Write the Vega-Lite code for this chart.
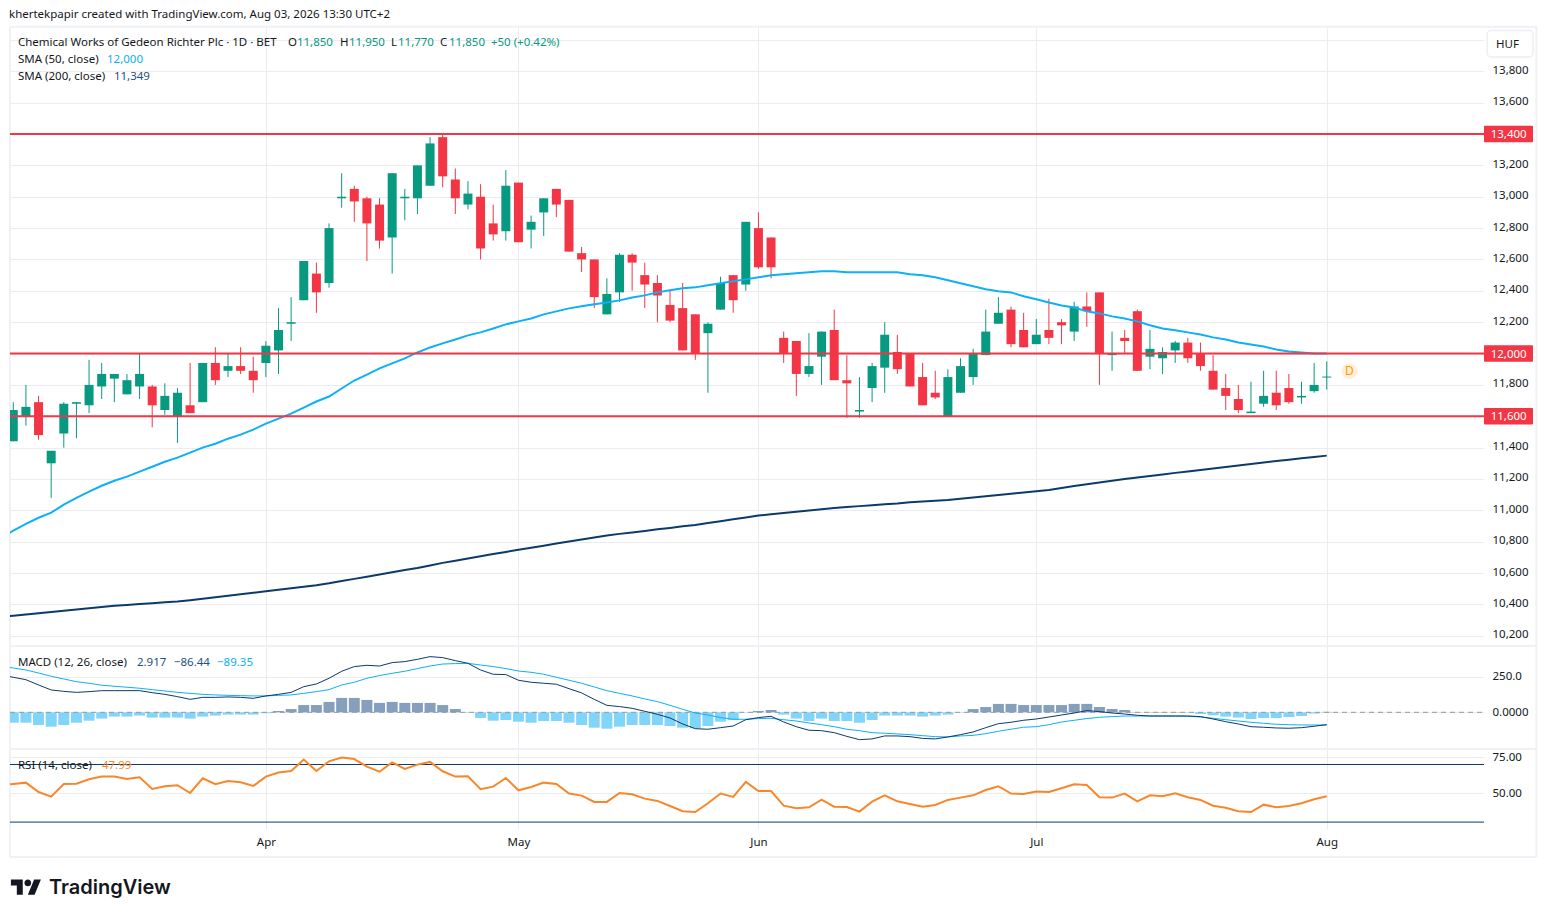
{
  "$schema": "https://vega.github.io/schema/vega-lite/v6.json",
  "description": "Gedeon Richter daily candles with SMA, MACD and RSI",
  "background": "white",
  "autosize": {"type": "pad"},
  "padding": {"left": 8, "top": 9, "right": 0, "bottom": 0},
  "spacing": 0,
  "bounds": "flush",
  "config": {
    "view": {"stroke": null},
    "font": "Noto Sans",
    "axis": {"gridColor": "#ececef", "gridWidth": 1, "labelColor": "#131722", "labelFont": "Noto Sans", "labelFontSize": 11.5, "domain": false, "ticks": false, "tickCount": 40}
  },
  "datasets": {
    "bars": [
      {"n":-1,"sma50":10825,"sma200":10320,"macd":262,"signal":325,"rsi":55.6},
      {"n":0,"open":11440,"high":11690,"low":11440,"close":11640,"dir":"up","sma50":10870,"sma200":10328,"hist":-73,"macd":246,"signal":311,"rsi":56.5},
      {"n":1,"open":11600,"high":11800,"low":11540,"close":11660,"dir":"up","sma50":10914,"sma200":10336,"hist":-73,"macd":229,"signal":297,"rsi":57.4},
      {"n":2,"open":11690,"high":11730,"low":11450,"close":11480,"dir":"down","sma50":10953,"sma200":10344,"hist":-89,"macd":192,"signal":276,"rsi":50.9},
      {"n":3,"open":11300,"high":11380,"low":11080,"close":11380,"dir":"up","sma50":10985,"sma200":10352,"hist":-101,"macd":157,"signal":253,"rsi":47.7},
      {"n":4,"open":11490,"high":11690,"low":11400,"close":11680,"dir":"up","sma50":11036,"sma200":10360,"hist":-89,"macd":147,"signal":234,"rsi":56.5},
      {"n":5,"open":11680,"high":11690,"low":11460,"close":11690,"dir":"up","sma50":11080,"sma200":10368,"hist":-73,"macd":140,"signal":215,"rsi":56.7},
      {"n":6,"open":11670,"high":11960,"low":11620,"close":11800,"dir":"up","sma50":11119,"sma200":10376,"hist":-59,"macd":145,"signal":204,"rsi":59.7},
      {"n":7,"open":11790,"high":11940,"low":11710,"close":11870,"dir":"up","sma50":11157,"sma200":10384,"hist":-44,"macd":152,"signal":190,"rsi":61.6},
      {"n":8,"open":11840,"high":11870,"low":11690,"close":11870,"dir":"up","sma50":11189,"sma200":10392,"hist":-30,"macd":152,"signal":183,"rsi":61.6},
      {"n":9,"open":11740,"high":11870,"low":11740,"close":11830,"dir":"up","sma50":11215,"sma200":10397,"hist":-30,"macd":152,"signal":176,"rsi":60.0},
      {"n":10,"open":11790,"high":12000,"low":11710,"close":11870,"dir":"up","sma50":11247,"sma200":10403,"hist":-23,"macd":152,"signal":169,"rsi":61.1},
      {"n":11,"open":11790,"high":11800,"low":11530,"close":11670,"dir":"down","sma50":11278,"sma200":10408,"hist":-37,"macd":138,"signal":159,"rsi":53.0},
      {"n":12,"open":11640,"high":11810,"low":11610,"close":11730,"dir":"up","sma50":11310,"sma200":10414,"hist":-37,"macd":126,"signal":150,"rsi":54.9},
      {"n":13,"open":11600,"high":11780,"low":11430,"close":11750,"dir":"up","sma50":11336,"sma200":10419,"hist":-37,"macd":110,"signal":140,"rsi":55.6},
      {"n":14,"open":11670,"high":11940,"low":11620,"close":11620,"dir":"down","sma50":11368,"sma200":10427,"hist":-44,"macd":91,"signal":133,"rsi":50.2},
      {"n":15,"open":11690,"high":11940,"low":11690,"close":11940,"dir":"up","sma50":11400,"sma200":10436,"hist":-30,"macd":105,"signal":126,"rsi":60.4},
      {"n":16,"open":11940,"high":12040,"low":11800,"close":11830,"dir":"down","sma50":11425,"sma200":10446,"hist":-23,"macd":105,"signal":122,"rsi":56.3},
      {"n":17,"open":11890,"high":12000,"low":11850,"close":11920,"dir":"up","sma50":11457,"sma200":10455,"hist":-16,"macd":108,"signal":119,"rsi":58.6},
      {"n":18,"open":11920,"high":12040,"low":11870,"close":11890,"dir":"down","sma50":11483,"sma200":10465,"hist":-16,"macd":105,"signal":117,"rsi":57.6},
      {"n":19,"open":11890,"high":11980,"low":11750,"close":11830,"dir":"down","sma50":11515,"sma200":10474,"hist":-16,"macd":98,"signal":115,"rsi":55.1},
      {"n":20,"open":11940,"high":12080,"low":11850,"close":12050,"dir":"up","sma50":11553,"sma200":10484,"hist":-7,"macd":115,"signal":115,"rsi":61.6},
      {"n":21,"open":12020,"high":12290,"low":11870,"close":12150,"dir":"up","sma50":11585,"sma200":10494,"hist":9,"macd":126,"signal":119,"rsi":64.4},
      {"n":22,"open":12190,"high":12360,"low":12080,"close":12200,"dir":"up","sma50":11617,"sma200":10503,"hist":23,"macd":140,"signal":122,"rsi":65.5},
      {"n":23,"open":12340,"high":12590,"low":12340,"close":12590,"dir":"up","sma50":11655,"sma200":10513,"hist":51,"macd":180,"signal":133,"rsi":73.4},
      {"n":24,"open":12510,"high":12580,"low":12260,"close":12390,"dir":"down","sma50":11694,"sma200":10523,"hist":51,"macd":199,"signal":145,"rsi":65.5},
      {"n":25,"open":12450,"high":12830,"low":12420,"close":12800,"dir":"up","sma50":11726,"sma200":10535,"hist":73,"macd":239,"signal":159,"rsi":72.2},
      {"n":26,"open":12990,"high":13150,"low":12930,"close":13000,"dir":"up","sma50":11777,"sma200":10549,"hist":101,"macd":288,"signal":192,"rsi":74.8},
      {"n":27,"open":13050,"high":13070,"low":12840,"close":12970,"dir":"down","sma50":11828,"sma200":10563,"hist":101,"macd":321,"signal":211,"rsi":73.8},
      {"n":28,"open":12990,"high":13000,"low":12590,"close":12830,"dir":"down","sma50":11866,"sma200":10577,"hist":87,"macd":330,"signal":239,"rsi":68.5},
      {"n":29,"open":12950,"high":12990,"low":12670,"close":12720,"dir":"down","sma50":11905,"sma200":10591,"hist":66,"macd":325,"signal":258,"rsi":65.0},
      {"n":30,"open":12740,"high":13150,"low":12510,"close":13150,"dir":"up","sma50":11937,"sma200":10605,"hist":73,"macd":349,"signal":274,"rsi":71.5},
      {"n":31,"open":12990,"high":13050,"low":12850,"close":13000,"dir":"up","sma50":11969,"sma200":10619,"hist":66,"macd":356,"signal":288,"rsi":66.9},
      {"n":32,"open":12990,"high":13200,"low":12890,"close":13200,"dir":"up","sma50":12007,"sma200":10633,"hist":66,"macd":372,"signal":307,"rsi":69.9},
      {"n":33,"open":13070,"high":13380,"low":13070,"close":13340,"dir":"up","sma50":12039,"sma200":10649,"hist":66,"macd":391,"signal":325,"rsi":71.8},
      {"n":34,"open":13380,"high":13400,"low":13060,"close":13130,"dir":"down","sma50":12065,"sma200":10665,"hist":51,"macd":384,"signal":339,"rsi":65.3},
      {"n":35,"open":13110,"high":13180,"low":12890,"close":12990,"dir":"down","sma50":12090,"sma200":10679,"hist":23,"macd":363,"signal":342,"rsi":61.6},
      {"n":36,"open":12950,"high":13100,"low":12920,"close":13020,"dir":"up","sma50":12116,"sma200":10693,"hist":2,"macd":344,"signal":344,"rsi":61.8},
      {"n":37,"open":13000,"high":13080,"low":12600,"close":12670,"dir":"down","sma50":12135,"sma200":10707,"hist":-40,"macd":297,"signal":332,"rsi":52.8},
      {"n":38,"open":12830,"high":12950,"low":12720,"close":12760,"dir":"down","sma50":12160,"sma200":10721,"hist":-59,"macd":267,"signal":321,"rsi":54.6},
      {"n":39,"open":12780,"high":13170,"low":12720,"close":13070,"dir":"up","sma50":12186,"sma200":10735,"hist":-54,"macd":265,"signal":307,"rsi":60.6},
      {"n":40,"open":13090,"high":13090,"low":12710,"close":12710,"dir":"down","sma50":12205,"sma200":10749,"hist":-66,"macd":225,"signal":290,"rsi":52.1},
      {"n":41,"open":12790,"high":12880,"low":12670,"close":12840,"dir":"up","sma50":12224,"sma200":10762,"hist":-73,"macd":211,"signal":281,"rsi":54.4},
      {"n":42,"open":12900,"high":12990,"low":12750,"close":12990,"dir":"up","sma50":12250,"sma200":10775,"hist":-61,"macd":204,"signal":267,"rsi":57.4},
      {"n":43,"open":13050,"high":13050,"low":12870,"close":12950,"dir":"down","sma50":12269,"sma200":10788,"hist":-61,"macd":197,"signal":246,"rsi":56.5},
      {"n":44,"open":12980,"high":12980,"low":12650,"close":12650,"dir":"down","sma50":12288,"sma200":10801,"hist":-73,"macd":166,"signal":225,"rsi":49.8},
      {"n":45,"open":12640,"high":12680,"low":12520,"close":12600,"dir":"down","sma50":12301,"sma200":10814,"hist":-89,"macd":136,"signal":204,"rsi":48.4},
      {"n":46,"open":12600,"high":12600,"low":12290,"close":12360,"dir":"down","sma50":12314,"sma200":10827,"hist":-108,"macd":91,"signal":178,"rsi":44.0},
      {"n":47,"open":12250,"high":12480,"low":12250,"close":12380,"dir":"up","sma50":12326,"sma200":10840,"hist":-115,"macd":49,"signal":152,"rsi":44.0},
      {"n":48,"open":12390,"high":12640,"low":12330,"close":12630,"dir":"up","sma50":12339,"sma200":10850,"hist":-101,"macd":40,"signal":133,"rsi":50.2},
      {"n":49,"open":12630,"high":12640,"low":12400,"close":12580,"dir":"down","sma50":12358,"sma200":10859,"hist":-89,"macd":28,"signal":115,"rsi":49.3},
      {"n":50,"open":12500,"high":12580,"low":12290,"close":12440,"dir":"down","sma50":12371,"sma200":10869,"hist":-89,"macd":7,"signal":94,"rsi":46.3},
      {"n":51,"open":12450,"high":12500,"low":12200,"close":12370,"dir":"down","sma50":12390,"sma200":10879,"hist":-89,"macd":-14,"signal":75,"rsi":44.7},
      {"n":52,"open":12310,"high":12400,"low":12200,"close":12210,"dir":"down","sma50":12403,"sma200":10888,"hist":-96,"macd":-40,"signal":49,"rsi":41.2},
      {"n":53,"open":12290,"high":12450,"low":12020,"close":12020,"dir":"down","sma50":12416,"sma200":10898,"hist":-108,"macd":-82,"signal":21,"rsi":37.5},
      {"n":54,"open":12250,"high":12250,"low":11960,"close":12000,"dir":"down","sma50":12422,"sma200":10907,"hist":-112,"macd":-115,"signal":-5,"rsi":37.0},
      {"n":55,"open":12130,"high":12200,"low":11750,"close":12190,"dir":"up","sma50":12435,"sma200":10919,"hist":-96,"macd":-119,"signal":-19,"rsi":43.1},
      {"n":56,"open":12280,"high":12490,"low":12280,"close":12450,"dir":"up","sma50":12448,"sma200":10931,"hist":-66,"macd":-108,"signal":-37,"rsi":49.8},
      {"n":57,"open":12500,"high":12500,"low":12260,"close":12340,"dir":"down","sma50":12461,"sma200":10943,"hist":-54,"macd":-96,"signal":-49,"rsi":47.5},
      {"n":58,"open":12440,"high":12840,"low":12400,"close":12840,"dir":"up","sma50":12473,"sma200":10955,"hist":-2,"macd":-52,"signal":-49,"rsi":57.9},
      {"n":59,"open":12800,"high":12900,"low":12540,"close":12550,"dir":"down","sma50":12486,"sma200":10967,"hist":9,"macd":-37,"signal":-44,"rsi":51.6},
      {"n":60,"open":12740,"high":12740,"low":12480,"close":12550,"dir":"down","sma50":12499,"sma200":10975,"hist":16,"macd":-28,"signal":-42,"rsi":51.6},
      {"n":61,"open":12100,"high":12140,"low":11940,"close":12000,"dir":"down","sma50":12505,"sma200":10983,"hist":-16,"macd":-68,"signal":-52,"rsi":41.4},
      {"n":62,"open":12080,"high":12080,"low":11730,"close":11870,"dir":"down","sma50":12512,"sma200":10991,"hist":-44,"macd":-101,"signal":-61,"rsi":39.6},
      {"n":63,"open":11870,"high":12130,"low":11850,"close":11920,"dir":"up","sma50":12518,"sma200":10999,"hist":-61,"macd":-126,"signal":-75,"rsi":40.3},
      {"n":64,"open":11980,"high":12140,"low":11800,"close":12140,"dir":"up","sma50":12525,"sma200":11007,"hist":-44,"macd":-129,"signal":-87,"rsi":45.6},
      {"n":65,"open":12150,"high":12280,"low":11830,"close":11830,"dir":"down","sma50":12525,"sma200":11015,"hist":-61,"macd":-143,"signal":-101,"rsi":40.7},
      {"n":66,"open":11830,"high":11990,"low":11590,"close":11810,"dir":"down","sma50":12518,"sma200":11021,"hist":-61,"macd":-169,"signal":-119,"rsi":40.5},
      {"n":67,"open":11630,"high":11850,"low":11590,"close":11640,"dir":"up","sma50":12518,"sma200":11027,"hist":-73,"macd":-192,"signal":-129,"rsi":37.3},
      {"n":68,"open":11780,"high":11940,"low":11690,"close":11920,"dir":"up","sma50":12518,"sma200":11033,"hist":-54,"macd":-187,"signal":-143,"rsi":44.2},
      {"n":69,"open":11910,"high":12200,"low":11750,"close":12120,"dir":"up","sma50":12518,"sma200":11039,"hist":-23,"macd":-166,"signal":-147,"rsi":48.6},
      {"n":70,"open":12010,"high":12120,"low":11870,"close":11900,"dir":"down","sma50":12518,"sma200":11044,"hist":-23,"macd":-166,"signal":-152,"rsi":44.4},
      {"n":71,"open":12000,"high":12000,"low":11790,"close":11790,"dir":"down","sma50":12505,"sma200":11051,"hist":-23,"macd":-171,"signal":-157,"rsi":42.6},
      {"n":72,"open":11850,"high":11940,"low":11670,"close":11670,"dir":"down","sma50":12499,"sma200":11056,"hist":-30,"macd":-183,"signal":-164,"rsi":40.7},
      {"n":73,"open":11750,"high":11890,"low":11710,"close":11720,"dir":"down","sma50":12486,"sma200":11061,"hist":-23,"macd":-187,"signal":-171,"rsi":41.9},
      {"n":74,"open":11600,"high":11900,"low":11600,"close":11850,"dir":"up","sma50":12467,"sma200":11066,"hist":-16,"macd":-173,"signal":-173,"rsi":45.4},
      {"n":75,"open":11750,"high":11970,"low":11750,"close":11920,"dir":"up","sma50":12448,"sma200":11074,"hist":-2,"macd":-157,"signal":-166,"rsi":47.0},
      {"n":76,"open":11850,"high":12030,"low":11800,"close":12000,"dir":"up","sma50":12429,"sma200":11082,"hist":23,"macd":-138,"signal":-162,"rsi":48.6},
      {"n":77,"open":11990,"high":12280,"low":11990,"close":12140,"dir":"up","sma50":12410,"sma200":11090,"hist":37,"macd":-108,"signal":-150,"rsi":52.3},
      {"n":78,"open":12190,"high":12360,"low":12190,"close":12260,"dir":"up","sma50":12397,"sma200":11098,"hist":59,"macd":-80,"signal":-133,"rsi":54.9},
      {"n":79,"open":12280,"high":12300,"low":12040,"close":12060,"dir":"down","sma50":12390,"sma200":11106,"hist":59,"macd":-70,"signal":-119,"rsi":49.8},
      {"n":80,"open":12150,"high":12260,"low":12040,"close":12040,"dir":"down","sma50":12365,"sma200":11114,"hist":51,"macd":-56,"signal":-105,"rsi":49.5},
      {"n":81,"open":12060,"high":12220,"low":12060,"close":12120,"dir":"up","sma50":12346,"sma200":11122,"hist":51,"macd":-47,"signal":-101,"rsi":51.2},
      {"n":82,"open":12150,"high":12350,"low":12060,"close":12100,"dir":"down","sma50":12326,"sma200":11130,"hist":51,"macd":-33,"signal":-87,"rsi":50.9},
      {"n":83,"open":12200,"high":12220,"low":12060,"close":12180,"dir":"down","sma50":12307,"sma200":11143,"hist":51,"macd":-19,"signal":-68,"rsi":53.5},
      {"n":84,"open":12140,"high":12330,"low":12080,"close":12300,"dir":"up","sma50":12294,"sma200":11155,"hist":59,"macd":-5,"signal":-56,"rsi":56.3},
      {"n":85,"open":12300,"high":12390,"low":12170,"close":12270,"dir":"down","sma50":12269,"sma200":11166,"hist":59,"macd":12,"signal":-44,"rsi":55.8},
      {"n":86,"open":12390,"high":12390,"low":11800,"close":12000,"dir":"down","sma50":12256,"sma200":11178,"hist":37,"macd":5,"signal":-35,"rsi":47.2},
      {"n":87,"open":11990,"high":12140,"low":11890,"close":12000,"dir":"up","sma50":12237,"sma200":11189,"hist":23,"macd":-5,"signal":-30,"rsi":47.0},
      {"n":88,"open":12100,"high":12150,"low":12000,"close":12080,"dir":"down","sma50":12224,"sma200":11200,"hist":16,"macd":-12,"signal":-26,"rsi":49.8},
      {"n":89,"open":12270,"high":12280,"low":11890,"close":11890,"dir":"down","sma50":12205,"sma200":11210,"hist":2,"macd":-21,"signal":-26,"rsi":44.4},
      {"n":90,"open":11980,"high":12150,"low":11900,"close":12030,"dir":"up","sma50":12180,"sma200":11219,"hist":2,"macd":-26,"signal":-26,"rsi":48.6},
      {"n":91,"open":11970,"high":12040,"low":11870,"close":12010,"dir":"up","sma50":12160,"sma200":11229,"hist":2,"macd":-26,"signal":-26,"rsi":47.9},
      {"n":92,"open":12020,"high":12080,"low":11940,"close":12070,"dir":"up","sma50":12148,"sma200":11239,"hist":2,"macd":-26,"signal":-26,"rsi":50.0},
      {"n":93,"open":12070,"high":12100,"low":11940,"close":11970,"dir":"down","sma50":12135,"sma200":11248,"hist":-2,"macd":-26,"signal":-28,"rsi":47.2},
      {"n":94,"open":12000,"high":12070,"low":11890,"close":11920,"dir":"down","sma50":12122,"sma200":11258,"hist":-12,"macd":-30,"signal":-33,"rsi":45.4},
      {"n":95,"open":11890,"high":11990,"low":11770,"close":11770,"dir":"down","sma50":12103,"sma200":11267,"hist":-21,"macd":-47,"signal":-42,"rsi":41.4},
      {"n":96,"open":11780,"high":11870,"low":11640,"close":11730,"dir":"down","sma50":12090,"sma200":11277,"hist":-30,"macd":-66,"signal":-52,"rsi":40.0},
      {"n":97,"open":11710,"high":11800,"low":11620,"close":11640,"dir":"down","sma50":12071,"sma200":11286,"hist":-37,"macd":-82,"signal":-61,"rsi":37.5},
      {"n":98,"open":11620,"high":11820,"low":11620,"close":11630,"dir":"up","sma50":12058,"sma200":11295,"hist":-47,"macd":-101,"signal":-70,"rsi":37.0},
      {"n":99,"open":11680,"high":11890,"low":11660,"close":11730,"dir":"up","sma50":12045,"sma200":11305,"hist":-40,"macd":-105,"signal":-77,"rsi":42.1},
      {"n":100,"open":11750,"high":11890,"low":11640,"close":11670,"dir":"down","sma50":12026,"sma200":11314,"hist":-40,"macd":-110,"signal":-84,"rsi":40.3},
      {"n":101,"open":11780,"high":11870,"low":11680,"close":11690,"dir":"down","sma50":12013,"sma200":11323,"hist":-33,"macd":-112,"signal":-87,"rsi":41.2},
      {"n":102,"open":11720,"high":11820,"low":11680,"close":11730,"dir":"up","sma50":12007,"sma200":11332,"hist":-26,"macd":-108,"signal":-89,"rsi":43.1},
      {"n":103,"open":11760,"high":11940,"low":11750,"close":11800,"dir":"up","sma50":12001,"sma200":11340,"hist":-9,"macd":-98,"signal":-89,"rsi":45.8},
      {"n":104,"open":11850,"high":11950,"low":11770,"close":11850,"dir":"up","sma50":12000,"sma200":11349,"hist":2.917,"macd":-86.44,"signal":-89.35,"rsi":47.99}
    ]
  },
  "vconcat": [
    {
      "width": 1474,
      "height": 618,
      "data": {"name": "bars"},
      "encoding": {
        "x": {
          "field": "n",
          "type": "quantitative",
          "title": null,
          "scale": {"domain": [-0.26, 116.45], "nice": false, "zero": false, "padding": 0},
          "axis": {"values": [20, 40, 59, 81, 104], "labels": false, "grid": true}
        }
      },
      "layer": [
        {
          "data": {"values": [
            {"x0": -0.26, "x1": 120.6, "y0": 14084, "y1": 14084},
            {"x0": -0.26, "x1": -0.26, "y0": 14084, "y1": 10135},
            {"x0": 120.6, "x1": 120.6, "y0": 14084, "y1": 10135},
            {"x0": -0.26, "x1": 120.6, "y0": 10135, "y1": 10135}
          ]},
          "mark": {"type": "rule", "color": "#eff1f6", "strokeWidth": 2},
          "encoding": {
            "x": {"field": "x0", "type": "quantitative", "title": null},
            "x2": {"field": "x1"},
            "y": {
              "field": "y0",
              "type": "quantitative",
              "title": null,
              "scale": {"domain": [10135, 14076], "nice": false, "zero": false},
              "axis": {
                "orient": "right",
                "grid": true,
                "labelPadding": 8,
                "labelOffset": -1,
                "labelBound": false,
                "labelFlush": false,
                "labelOverlap": false,
                "format": ",d",
                "values": [10200, 10400, 10600, 10800, 11000, 11200, 11400, 11600, 11800, 12000, 12200, 12400, 12600, 12800, 13000, 13200, 13400, 13600, 13800, 14000],
                "labelExpr": "indexof([14000, 13400, 12000, 11600], datum.value) >= 0 ? '' : datum.label"
              }
            },
            "y2": {"field": "y1"}
          }
        },
        {
          "mark": {"type": "rule", "clip": true, "strokeWidth": 1},
          "encoding": {
            "y": {"field": "low", "type": "quantitative", "title": null},
            "y2": {"field": "high"},
            "color": {"field": "dir", "type": "nominal", "legend": null, "scale": {"domain": ["up", "down", "plain", "sma50", "sma200", "rsi"], "range": ["#089981", "#f23645", "#131722", "#0cb0f7", "#1d4f86", "#f7872a"]}}
          }
        },
        {
          "mark": {"type": "bar", "clip": true, "size": 9},
          "encoding": {
            "y": {"field": "open", "type": "quantitative", "title": null},
            "y2": {"field": "close"},
            "color": {"field": "dir", "type": "nominal", "legend": null, "scale": {"domain": ["up", "down", "plain", "sma50", "sma200", "rsi"], "range": ["#089981", "#f23645", "#131722", "#0cb0f7", "#1d4f86", "#f7872a"]}}
          }
        },
        {
          "transform": [{"filter": "datum.open == datum.close"}],
          "mark": {"type": "tick", "orient": "horizontal", "size": 9, "thickness": 1, "opacity": 1, "color": "#089981"},
          "encoding": {"y": {"field": "close", "type": "quantitative", "title": null}}
        },
        {
          "mark": {"type": "line", "clip": true, "color": "#0b3a6b", "strokeWidth": 2},
          "encoding": {"y": {"field": "sma200", "type": "quantitative", "title": null}}
        },
        {
          "mark": {"type": "line", "clip": true, "color": "#0cb0f7", "strokeWidth": 2},
          "encoding": {"y": {"field": "sma50", "type": "quantitative", "title": null}}
        },
        {
          "data": {"values": [
            {"level": 13400, "x0": -0.26, "x1": 116.45},
            {"level": 12000, "x0": -0.26, "x1": 116.45},
            {"level": 11600, "x0": -0.26, "x1": 116.45}
          ]},
          "mark": {"type": "rule", "color": "#f23645", "strokeWidth": 2},
          "encoding": {
            "x": {"field": "x0", "type": "quantitative", "title": null},
            "x2": {"field": "x1"},
            "y": {"field": "level", "type": "quantitative", "title": null}
          }
        },
        {
          "data": {"values": [
            {"x0": 116.45, "x1": 120.33, "y0": 13347, "y1": 13453},
            {"x0": 116.45, "x1": 120.33, "y0": 11947, "y1": 12053},
            {"x0": 116.45, "x1": 120.33, "y0": 11547, "y1": 11653}
          ]},
          "mark": {"type": "rect", "color": "#f23645", "cornerRadius": 1},
          "encoding": {
            "x": {"field": "x0", "type": "quantitative", "title": null},
            "x2": {"field": "x1"},
            "y": {"field": "y0", "type": "quantitative", "title": null},
            "y2": {"field": "y1"}
          }
        },
        {
          "data": {"values": [
            {"x0": 118.4, "level": 13393, "label": "13,400"},
            {"x0": 118.4, "level": 11993, "label": "12,000"},
            {"x0": 118.4, "level": 11593, "label": "11,600"}
          ]},
          "mark": {"type": "text", "color": "white", "fontSize": 11.5, "align": "center", "baseline": "middle"},
          "encoding": {
            "x": {"field": "x0", "type": "quantitative", "title": null},
            "y": {"field": "level", "type": "quantitative", "title": null},
            "text": {"field": "label"}
          }
        },
        {
          "data": {"values": [{"x0": 116.7, "x1": 120.33, "y0": 13891, "y1": 14060}]},
          "mark": {"type": "rect", "fill": "white", "stroke": "#eceef3", "strokeWidth": 1.5, "cornerRadius": 4},
          "encoding": {
            "x": {"field": "x0", "type": "quantitative", "title": null},
            "x2": {"field": "x1"},
            "y": {"field": "y0", "type": "quantitative", "title": null},
            "y2": {"field": "y1"}
          }
        },
        {
          "data": {"values": [
            {"x0": -0.34, "level": 14156, "label": "khertekpapir created with TradingView.com, Aug 03, 2026 13:30 UTC+2", "kind": "plain"},
            {"x0": 117.4, "level": 13967, "label": "HUF", "kind": "plain"},
            {"x0": 0.37, "level": 13980, "label": "Chemical Works of Gedeon Richter Plc · 1D · BET", "kind": "plain"},
            {"x0": 21.75, "level": 13980, "label": "O", "kind": "plain"},
            {"x0": 22.46, "level": 13980, "label": "11,850", "kind": "up"},
            {"x0": 25.87, "level": 13980, "label": "H", "kind": "plain"},
            {"x0": 26.58, "level": 13980, "label": "11,950", "kind": "up"},
            {"x0": 29.91, "level": 13980, "label": "L", "kind": "plain"},
            {"x0": 30.46, "level": 13980, "label": "11,770", "kind": "up"},
            {"x0": 33.78, "level": 13980, "label": "C", "kind": "plain"},
            {"x0": 34.5, "level": 13980, "label": "11,850", "kind": "up"},
            {"x0": 37.82, "level": 13980, "label": "+50 (+0.42%)", "kind": "up"},
            {"x0": 0.37, "level": 13872, "label": "SMA (50, close)", "kind": "plain"},
            {"x0": 7.42, "level": 13872, "label": "12,000", "kind": "sma50"},
            {"x0": 0.37, "level": 13764, "label": "SMA (200, close)", "kind": "plain"},
            {"x0": 7.97, "level": 13764, "label": "11,349", "kind": "sma200"}
          ]},
          "mark": {"type": "text", "fontSize": 11.5, "align": "left", "baseline": "middle"},
          "encoding": {
            "x": {"field": "x0", "type": "quantitative", "title": null},
            "y": {"field": "level", "type": "quantitative", "title": null},
            "text": {"field": "label"},
            "color": {"field": "kind", "type": "nominal", "legend": null, "scale": {"domain": ["up", "down", "plain", "sma50", "sma200", "rsi"], "range": ["#089981", "#f23645", "#131722", "#0cb0f7", "#1d4f86", "#f7872a"]}}
          }
        },
        {
          "data": {"values": [{"x0": 105.8, "level": 11888}]},
          "mark": {"type": "circle", "size": 254, "color": "#ffeed9", "opacity": 1},
          "encoding": {
            "x": {"field": "x0", "type": "quantitative", "title": null},
            "y": {"field": "level", "type": "quantitative", "title": null}
          }
        },
        {
          "data": {"values": [{"x0": 105.8, "level": 11888, "label": "D"}]},
          "mark": {"type": "text", "color": "#ff9800", "fontSize": 12, "align": "center", "baseline": "middle"},
          "encoding": {
            "x": {"field": "x0", "type": "quantitative", "title": null},
            "y": {"field": "level", "type": "quantitative", "title": null},
            "text": {"field": "label"}
          }
        }
      ]
    },
    {
      "width": 1474,
      "height": 103,
      "data": {"name": "bars"},
      "encoding": {
        "x": {
          "field": "n",
          "type": "quantitative",
          "title": null,
          "scale": {"domain": [-0.26, 116.45], "nice": false, "zero": false, "padding": 0},
          "axis": {"values": [20, 40, 59, 81, 104], "labels": false, "grid": true}
        }
      },
      "layer": [
        {
          "data": {"values": [
            {"x0": -0.26, "x1": -0.26, "y0": 465.6, "y1": -257.7},
            {"x0": 120.6, "x1": 120.6, "y0": 465.6, "y1": -257.7},
            {"x0": -0.26, "x1": 120.6, "y0": -257.7, "y1": -257.7}
          ]},
          "mark": {"type": "rule", "color": "#eff1f6", "strokeWidth": 2},
          "encoding": {
            "x": {"field": "x0", "type": "quantitative", "title": null},
            "x2": {"field": "x1"},
            "y": {
              "field": "y0",
              "type": "quantitative",
              "title": null,
              "scale": {"domain": [-257.7, 465.6], "nice": false, "zero": false},
              "axis": {
                "orient": "right",
                "grid": true,
                "labelPadding": 8,
                "labelBound": false,
                "labelFlush": false,
                "labelOverlap": false,
                "values": [0, 250],
                "labelExpr": "datum.value == 0 ? '0.0000' : '250.0'"
              }
            },
            "y2": {"field": "y1"}
          }
        },
        {
          "mark": {"type": "bar", "clip": true, "size": 11},
          "encoding": {
            "y": {"field": "hist", "type": "quantitative", "title": null},
            "color": {"condition": {"test": "datum.hist >= 0", "value": "#84a0bd"}, "value": "#82d5fa"}
          }
        },
        {
          "data": {"values": [{"x0": -0.26, "x1": 116.45, "level": 0}]},
          "mark": {"type": "rule", "color": "#9598a1", "strokeWidth": 1, "strokeDash": [5, 4]},
          "encoding": {
            "x": {"field": "x0", "type": "quantitative", "title": null},
            "x2": {"field": "x1"},
            "y": {"field": "level", "type": "quantitative", "title": null}
          }
        },
        {
          "mark": {"type": "line", "clip": true, "color": "#0cb0f7", "strokeWidth": 1},
          "encoding": {"y": {"field": "signal", "type": "quantitative", "title": null}}
        },
        {
          "mark": {"type": "line", "clip": true, "color": "#0b3a6b", "strokeWidth": 1},
          "encoding": {"y": {"field": "macd", "type": "quantitative", "title": null}}
        },
        {
          "data": {"values": [
            {"x0": 0.37, "level": 346, "label": "MACD (12, 26, close)", "kind": "plain"},
            {"x0": 9.79, "level": 346, "label": "2.917", "kind": "sma200"},
            {"x0": 12.72, "level": 346, "label": "−86.44", "kind": "sma200"},
            {"x0": 16.13, "level": 346, "label": "−89.35", "kind": "sma50"}
          ]},
          "mark": {"type": "text", "fontSize": 11.5, "align": "left", "baseline": "middle"},
          "encoding": {
            "x": {"field": "x0", "type": "quantitative", "title": null},
            "y": {"field": "level", "type": "quantitative", "title": null},
            "text": {"field": "label"},
            "color": {"field": "kind", "type": "nominal", "legend": null, "scale": {"domain": ["up", "down", "plain", "sma50", "sma200", "rsi"], "range": ["#089981", "#f23645", "#131722", "#0cb0f7", "#1d4f86", "#f7872a"]}}
          }
        }
      ]
    },
    {
      "width": 1474,
      "height": 80,
      "data": {"name": "bars"},
      "encoding": {
        "x": {
          "field": "n",
          "type": "quantitative",
          "title": null,
          "scale": {"domain": [-0.26, 116.45], "nice": false, "zero": false, "padding": 0},
          "axis": {
            "values": [20, 40, 59, 81, 104],
            "grid": true,
            "labelPadding": 7,
            "labelFontSize": 11.5,
            "labelBound": false,
            "labelFlush": false,
            "labelOverlap": false,
            "labelExpr": "datum.value == 20 ? 'Apr' : datum.value == 40 ? 'May' : datum.value == 59 ? 'Jun' : datum.value == 81 ? 'Jul' : 'Aug'"
          }
        }
      },
      "layer": [
        {
          "data": {"values": [
            {"x0": -0.26, "x1": -0.26, "y0": 80.76, "y1": 5.76},
            {"x0": 120.6, "x1": 120.6, "y0": 80.76, "y1": 5.76},
            {"x0": -0.26, "x1": 120.6, "y0": 5.76, "y1": 5.76}
          ]},
          "mark": {"type": "rule", "color": "#eff1f6", "strokeWidth": 2},
          "encoding": {
            "x": {"field": "x0", "type": "quantitative", "title": null},
            "x2": {"field": "x1"},
            "y": {
              "field": "y0",
              "type": "quantitative",
              "title": null,
              "scale": {"domain": [25.2, 80.76], "nice": false, "zero": false},
              "axis": {
                "orient": "right",
                "grid": true,
                "labelPadding": 8,
                "labelBound": false,
                "labelFlush": false,
                "labelOverlap": false,
                "values": [50, 75],
                "format": ".2f"
              }
            },
            "y2": {"field": "y1"}
          }
        },
        {
          "data": {"values": [
            {"x0": -0.26, "x1": 116.45, "level": 70},
            {"x0": -0.26, "x1": 116.45, "level": 30}
          ]},
          "mark": {"type": "rule", "color": "#0b3a6b", "strokeWidth": 1},
          "encoding": {
            "x": {"field": "x0", "type": "quantitative", "title": null},
            "x2": {"field": "x1"},
            "y": {"field": "level", "type": "quantitative", "title": null}
          }
        },
        {
          "mark": {"type": "line", "clip": true, "color": "#f7872a", "strokeWidth": 2},
          "encoding": {"y": {"field": "rsi", "type": "quantitative", "title": null}}
        },
        {
          "data": {"values": [
            {"x0": 0.37, "level": 69, "label": "RSI (14, close)", "kind": "plain"},
            {"x0": 7.02, "level": 69, "label": "47.99", "kind": "rsi"}
          ]},
          "mark": {"type": "text", "fontSize": 11.5, "align": "left", "baseline": "middle"},
          "encoding": {
            "x": {"field": "x0", "type": "quantitative", "title": null},
            "y": {"field": "level", "type": "quantitative", "title": null},
            "text": {"field": "label"},
            "color": {"field": "kind", "type": "nominal", "legend": null, "scale": {"domain": ["up", "down", "plain", "sma50", "sma200", "rsi"], "range": ["#089981", "#f23645", "#131722", "#0cb0f7", "#1d4f86", "#f7872a"]}}
          }
        },
        {
          "data": {"values": [{"x0": 1.0, "level": -15.2}]},
          "mark": {
            "type": "point",
            "filled": true,
            "opacity": 1,
            "size": 900,
            "color": "#131722",
            "shape": "M-0.211 0.507H-0.606V-0.113H-1V-0.507H-0.211ZM0.577 0.507H0.127L0.549 -0.507H1ZM-0.098 -0.282A0.225 0.225 0 1 0 0.352 -0.282A0.225 0.225 0 1 0 -0.098 -0.282Z"
          },
          "encoding": {
            "x": {"field": "x0", "type": "quantitative", "title": null},
            "y": {"field": "level", "type": "quantitative", "title": null}
          }
        },
        {
          "data": {"values": [{"x0": 2.83, "level": -16, "label": "TradingView"}]},
          "mark": {"type": "text", "font": "Inter", "fontWeight": 600, "fontSize": 20, "color": "#131722", "align": "left", "baseline": "middle"},
          "encoding": {
            "x": {"field": "x0", "type": "quantitative", "title": null},
            "y": {"field": "level", "type": "quantitative", "title": null},
            "text": {"field": "label"}
          }
        }
      ]
    }
  ]
}
